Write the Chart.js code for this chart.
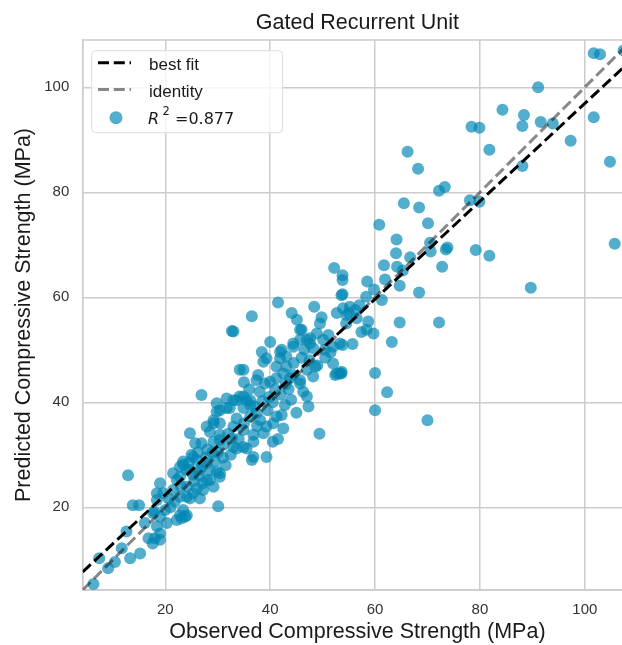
<!DOCTYPE html>
<html>
<head>
<meta charset="utf-8">
<script src="https://cdn.jsdelivr.net/npm/chart.js@4/dist/chart.umd.min.js"></script>
<style>
  html, body { margin: 0; padding: 0; background: #fff; overflow: hidden; }
  #wrap { width: 650px; height: 645px; }
</style>
</head>
<body>
<div id="wrap"><canvas id="chart" width="650" height="645"></canvas></div>
<script>
// observed vs predicted values
const observed = [
  6.3, 7.4, 9.1, 10.4, 11.7, 12.6, 13.3, 15.2, 12.9, 13.8, 15.0, 16.8, 18.0, 19.0, 17.6, 19.0, 18.4, 17.9, 18.4, 30.1,
  20.6, 21.8, 22.8, 23.8, 22.2, 23.1, 24.1, 20.3, 17.7, 19.0, 19.6, 18.4, 23.4, 25.3, 26.9, 29.2, 30.4, 33.0, 35.5, 36.5,
  19.0, 27.2, 29.2, 30.4, 27.9, 21.5, 22.8, 24.1, 25.3, 24.1, 26.6, 24.5, 26.2, 27.8, 25.0, 26.0, 23.4, 22.8, 24.7, 25.3,
  26.6, 27.9, 28.5, 29.8, 30.4, 28.5, 27.2, 26.0, 24.1, 22.2, 21.5, 22.8, 24.7, 23.4, 16.1, 24.7, 25.7, 29.2, 28.5, 30.4,
  31.1, 32.7, 33.6, 34.9, 36.8, 31.7, 33.6, 34.9, 36.2, 32.3, 30.4, 29.8, 37.4, 26.9, 29.8, 31.7, 29.2, 27.9, 30.4, 33.6,
  33.0, 36.2, 38.1, 39.3, 41.2, 42.2, 40.6, 38.7, 36.8, 34.9, 49.4, 35.5, 34.2, 36.2, 37.1, 34.9, 33.0, 41.2, 42.5, 41.2,
  40.0, 39.0, 37.7, 37.4, 34.2, 34.9, 38.7, 43.1, 43.8, 48.2, 48.6, 47.0, 45.7, 44.4, 45.7, 46.3, 47.0, 47.3, 52.0, 52.7,
  53.6, 50.1, 51.1, 52.0, 53.3, 50.4, 42.2, 41.9, 43.1, 44.4, 45.7, 47.0, 47.6, 48.2, 40.0, 38.4, 39.3, 48.4, 49.8, 49.5,
  44.1, 45.1, 45.7, 53.9, 54.6, 52.7, 32.7, 33.0, 36.5, 41.5, 53.6, 46.0, 47.6, 48.9, 55.2, 56.2, 53.8, 41.9, 44.4, 52.4,
  36.8, 39.3, 41.5, 42.5, 40.5, 52.2, 66.2, 81.8, 68.2, 88.1, 72.2, 73.3, 65.5, 68.4, 78.1, 79.9, 60.8, 70.1, 64.1, 70.5,
  64.0, 70.6, 73.5, 73.8, 79.2, 81.8, 66.7, 61.7, 64.2, 65.3, 72.8, 53.8, 61.9, 58.5, 64.7, 59.8, 53.8, 68.4, 61.3, 58.3,
  89.7, 64.7, 72.2, 58.7, 57.4, 58.4, 59.7, 63.2, 55.7, 53.8, 53.6, 60.0, 62.3, 60.0, 70.0, 105.7, 55.0, 56.5, 54.5, 57.0,
  101.7, 102.9, 107.4, 91.1, 84.3, 88.4, 88.1, 78.4, 79.9, 91.6, 93.9, 101.7, 97.3, 104.8, 28.0, 29.0, 31.0, 32.0, 34.0, 35.0,
  37.5, 39.5, 40.5, 42.0, 43.5, 44.5, 46.0, 47.5, 49.0, 50.5, 51.5, 46.5, 43.0, 39.8, 38.5, 41.0, 44.0, 45.0, 42.8, 36.0,
  35.0, 38.0, 21.0, 20.0, 25.5, 26.5, 23.0, 27.0, 29.5, 31.5, 32.5, 30.0, 53.3
];
const predicted = [
  5.4, 10.3, 8.4, 9.6, 12.2, 15.4, 10.3, 11.2, 26.1, 20.4, 20.4, 14.1, 14.1, 13.8, 13.1, 15.0, 16.4, 19.2, 22.7, 20.2,
  21.7, 21.1, 18.5, 18.2, 17.6, 17.9, 18.5, 17.0, 18.9, 18.2, 22.7, 21.4, 28.1, 29.6, 32.2, 32.5, 32.8, 31.5, 31.2, 29.0,
  24.6, 23.3, 23.9, 26.5, 25.2, 26.5, 25.8, 27.1, 22.7, 22.0, 21.7, 28.5, 30.5, 29.5, 30.0, 29.0, 28.7, 27.7, 27.1, 26.2,
  27.1, 28.4, 27.1, 26.8, 25.8, 25.2, 24.6, 23.6, 23.9, 25.2, 23.3, 22.0, 21.7, 19.5, 17.0, 34.1, 32.2, 36.0, 34.4, 33.8,
  31.9, 33.1, 31.2, 31.5, 32.5, 40.7, 40.4, 41.1, 40.4, 38.9, 38.5, 39.8, 37.9, 41.4, 38.2, 38.9, 36.6, 35.4, 36.0, 36.9,
  35.4, 37.3, 36.6, 35.4, 37.3, 37.6, 36.0, 34.1, 33.8, 34.7, 34.0, 40.4, 41.1, 39.5, 39.2, 38.9, 40.4, 46.8, 45.5, 44.6,
  43.9, 43.6, 45.2, 44.2, 46.2, 46.2, 47.7, 46.8, 44.6, 44.9, 46.8, 46.2, 44.2, 45.2, 43.6, 42.0, 41.1, 39.2, 47.4, 45.5,
  45.8, 51.9, 52.8, 50.6, 51.2, 50.0, 50.0, 48.4, 48.7, 51.2, 51.9, 51.9, 51.2, 50.3, 51.5, 49.6, 48.4, 58.2, 56.2, 55.0,
  57.0, 55.7, 53.8, 57.9, 56.6, 57.0, 53.6, 53.5, 56.4, 59.0, 60.4, 53.8, 52.2, 53.1, 58.2, 57.6, 63.3, 49.6, 50.6, 45.2,
  29.6, 29.6, 33.0, 35.0, 32.5, 65.6, 87.7, 88.1, 84.5, 85.0, 80.3, 81.0, 77.9, 77.1, 78.5, 78.2, 73.8, 74.1, 71.0, 70.4,
  68.4, 68.7, 69.1, 69.5, 69.0, 67.9, 67.6, 66.1, 65.8, 65.1, 65.8, 64.2, 63.4, 63.0, 62.2, 61.5, 60.6, 60.9, 59.5, 60.1,
  61.8, 55.2, 55.2, 55.4, 53.4, 53.8, 53.1, 51.5, 51.1, 50.9, 45.5, 45.6, 41.9, 38.5, 36.6, 70.2, 57.0, 56.0, 55.0, 58.5,
  106.5, 106.3, 107.0, 100.0, 95.7, 94.7, 92.6, 92.5, 92.3, 93.4, 93.1, 94.3, 89.8, 85.8, 31.0, 30.5, 29.5, 34.0, 33.0, 36.0,
  35.5, 38.5, 40.0, 41.5, 42.5, 47.5, 48.5, 48.0, 47.0, 48.5, 49.5, 50.0, 43.5, 41.0, 40.2, 42.5, 40.5, 38.0, 39.5, 42.5,
  43.8, 42.0, 20.0, 19.5, 25.0, 26.0, 24.0, 27.8, 28.8, 28.0, 30.0, 30.5, 45.5
];

// axis limits (shared), ticks and the two reference lines
const axisMin = 4.25;
const axisMax = 109;
const tickValues = [20, 40, 60, 80, 100];
const lineX = [4.25, 109];
const bestFitY = [7.7, 105.3];
const identityY = [4.25, 109];
const r2Text = "=0.877";

const FONT = "'Liberation Sans', Arial, sans-serif";
const POINT_COLOR = "rgba(0,135,180,0.68)";
const GRID = "#cccccc";

const points = observed.map((x, i) => ({ x, y: predicted[i] }));
const bestFit = lineX.map((x, i) => ({ x, y: bestFitY[i] }));
const identity = lineX.map((x, i) => ({ x, y: identityY[i] }));

// top/right spines like the matplotlib frame
const framePlugin = {
  id: "frame",
  beforeDatasetsDraw(chart) {
    const { ctx, chartArea: a } = chart;
    ctx.save();
    ctx.strokeStyle = GRID;
    ctx.lineWidth = 1.5;
    ctx.strokeRect(a.left, a.top, a.right - a.left, a.bottom - a.top);
    ctx.restore();
  },
};

// legend box inside the axes, upper left
const legendPlugin = {
  id: "innerLegend",
  afterDatasetsDraw(chart) {
    const { ctx } = chart;
    const bx = 91.7, by = 50.7, bw = 191, bh = 82;
    ctx.save();
    ctx.beginPath();
    ctx.roundRect(bx, by, bw, bh, 4);
    ctx.fillStyle = "rgba(255,255,255,0.8)";
    ctx.fill();
    ctx.strokeStyle = "#dcdcdc";
    ctx.lineWidth = 1;
    ctx.stroke();

    ctx.lineWidth = 3;
    ctx.setLineDash([11, 4.8]);
    ctx.strokeStyle = "#000";
    ctx.beginPath(); ctx.moveTo(98, 62.7); ctx.lineTo(131, 62.7); ctx.stroke();
    ctx.strokeStyle = "rgba(17,17,17,0.5)";
    ctx.beginPath(); ctx.moveTo(98, 89.5); ctx.lineTo(131, 89.5); ctx.stroke();
    ctx.setLineDash([]);

    ctx.fillStyle = POINT_COLOR;
    ctx.beginPath(); ctx.arc(116, 117.7, 6.5, 0, Math.PI * 2); ctx.fill();

    ctx.fillStyle = "#1a1a1a";
    ctx.textBaseline = "alphabetic";
    ctx.font = `17px ${FONT}`;
    ctx.fillText("best fit", 149, 70);
    ctx.fillText("identity", 149, 96.5);

    ctx.font = "italic 16px 'DejaVu Sans'";
    ctx.fillText("R", 148, 123.5);
    ctx.font = "11.5px 'DejaVu Sans'";
    ctx.fillText("2", 162.5, 115);
    ctx.font = "16px 'DejaVu Sans'";
    ctx.fillText(r2Text, 175, 123.5);
    ctx.restore();
  },
};

const fixTicks = (scale) => { scale.ticks = tickValues.map((v) => ({ value: v })); };

new Chart(document.getElementById("chart"), {
  type: "scatter",
  data: {
    datasets: [
      {
        type: "line",
        data: identity,
        borderColor: "rgba(17,17,17,0.5)",
        borderWidth: 3,
        borderDash: [11, 4.8],
        pointRadius: 0,
        fill: false,
        order: 0,
      },
      {
        type: "line",
        data: bestFit,
        borderColor: "#000",
        borderWidth: 3,
        borderDash: [11, 4.8],
        pointRadius: 0,
        fill: false,
        order: 1,
      },
      {
        data: points,
        backgroundColor: POINT_COLOR,
        borderWidth: 0,
        pointRadius: 6,
        pointHoverRadius: 6,
        order: 2,
      },
    ],
  },
  options: {
    responsive: false,
    animation: false,
    devicePixelRatio: 1,
    layout: { padding: { left: 0, top: 0, right: 18, bottom: 0 } },
    plugins: {
      legend: { display: false },
      tooltip: { enabled: false },
      title: {
        display: true,
        text: "Gated Recurrent Unit",
        fullSize: false,
        color: "#1a1a1a",
        font: { family: FONT, size: 21.5, weight: "normal" },
        padding: { top: 10.5, bottom: 3.7 },
      },
    },
    scales: {
      x: {
        type: "linear",
        min: axisMin,
        max: axisMax,
        afterBuildTicks: fixTicks,
        afterFit: (s) => { s.height = 55; },
        grid: { color: GRID, lineWidth: 1.5, drawTicks: false },
        border: { color: GRID, width: 1.5 },
        ticks: { color: "#333", padding: 11, font: { family: FONT, size: 15 } },
        title: {
          display: true,
          text: "Observed Compressive Strength (MPa)",
          color: "#1a1a1a",
          font: { family: FONT, size: 21.5 },
          padding: { top: 0, bottom: 0.5 },
        },
      },
      y: {
        type: "linear",
        min: axisMin,
        max: axisMax,
        afterBuildTicks: fixTicks,
        afterFit: (s) => { s.width = 82.7; },
        grid: { color: GRID, lineWidth: 1.5, drawTicks: false },
        border: { color: GRID, width: 1.5 },
        ticks: { color: "#333", padding: 13.4, font: { family: FONT, size: 15 } },
        title: {
          display: true,
          text: "Predicted Compressive Strength (MPa)",
          color: "#1a1a1a",
          font: { family: FONT, size: 21.5 },
          padding: { top: 11.1, bottom: 0 },
        },
      },
    },
  },
  plugins: [framePlugin, legendPlugin],
});
</script>
</body>
</html>
